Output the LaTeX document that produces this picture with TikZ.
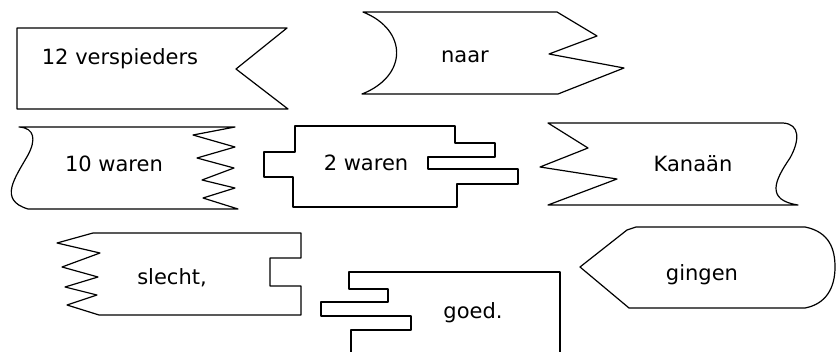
\documentclass[tikz,border=0pt]{standalone}
\usepackage{fontspec}
\setmainfont{DejaVu Sans}
\tikzset{
  strook/.style={line width=1.2pt,line join=round},
  woord/.style={anchor=base,inner sep=0pt,font=\fontsize{21}{25}\selectfont}
}
\begin{document}
\begin{tikzpicture}[x=1pt,y=-1pt]
			\useasboundingbox (0,0) rectangle (837,352);
			% bovenste rij
			\draw[strook] (17,28) -- (287,28) -- (236,69) -- (288,109) -- (17,109) -- cycle;
			\draw[strook] (363,12) -- (557,12) -- (597,36) -- (549,54) -- (624,68) -- (558,94) -- (362,94) .. controls (408,76) and (408,30) .. (363,12) -- cycle;
			\node[woord] (verspieders) at (120,65) {12 verspieders};
			\node[woord] (naar) at (465,63) {naar};

			% middelste rij
			\draw[strook] (19,127) -- (235,127) -- (193,135) -- (235,147) -- (197,158) -- (234,168) -- (202,180) -- (235,188) -- (203,198) -- (238,209) -- (28,209)
				.. controls (-2,200) and (15,178) .. (28,155) .. controls (36,140) and (35,128) .. (19,127) -- cycle;
			\draw[strook] (295,126) -- (455,126) -- (455,143) -- (495,143) -- (495,157) -- (428,157) -- (428,169) -- (518,169) -- (518,184) -- (457,184) -- (457,207)
				-- (293,207) -- (293,177) -- (264,177) -- (264,152) -- (295,152) -- cycle;
			\draw[strook] (548,123) -- (783,123) .. controls (800,124) and (800,140) .. (790,158) .. controls (775,180) and (765,200) .. (798,205)
				-- (548,205) -- (617,179) -- (540,167) -- (588,148) -- cycle;
			\node[woord] (tienwaren) at (114,172) {10 waren};
			\node[woord] (tweewaren) at (366,171) {2 waren};
			\node[woord] (kanaan) at (693,172) {Kanaän};

			% onderste rij
			\draw[strook] (93,233) -- (301,233) -- (301,258) -- (270,258) -- (270,286) -- (301,286) -- (301,315) -- (99,315) -- (67,305) -- (97,295) -- (65,287)
				-- (98,277) -- (62,267) -- (100,253) -- (57,243) -- cycle;
			\draw[strook] (351,352) -- (351,330) -- (411,330) -- (411,316) -- (321,316) -- (321,302) -- (388,302) -- (388,289) -- (349,289) -- (349,272)
				-- (560,272) -- (560,352);
			\draw[strook] (580,267) -- (627,230) -- (636,227) -- (805,227) .. controls (830,232) and (835,250) .. (835,267) .. controls (835,288) and (826,304) .. (805,308)
				-- (629,308) -- cycle;
			\node[woord] (slecht) at (172,284) {slecht,};
			\node[woord] (goed) at (473,318) {goed.};
			\node[woord] (gingen) at (702,280) {gingen};
		\end{tikzpicture}
\end{document}
